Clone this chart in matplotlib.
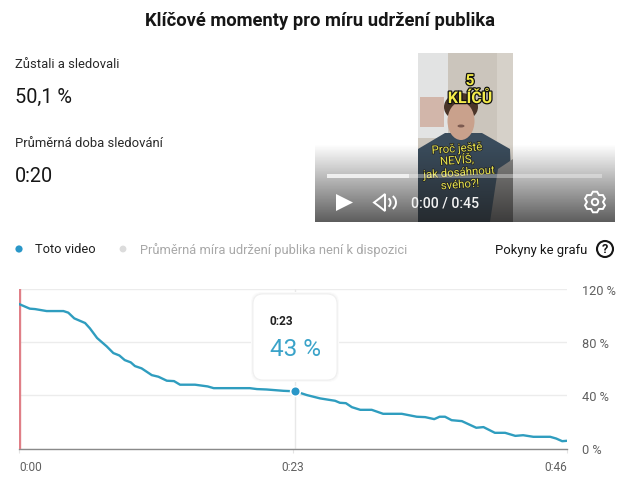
#!/usr/bin/python

import numpy as np
import matplotlib
matplotlib.use('Agg')
import matplotlib.pyplot as plt
import matplotlib.patheffects as pe
from matplotlib.patches import FancyBboxPatch, Ellipse, Rectangle, Polygon, Circle, Arc

plt.rcParams['font.family'] = ['Roboto', 'DejaVu Sans']

# retention curve
seconds = [0, 0.9, 1.33, 2.3, 3.7, 4.1, 4.6, 5.5, 5.9, 6.5, 7.3, 7.85, 8.35, 8.8, 9.3,
           9.65, 10.2, 11.05, 11.6, 12.3, 12.9, 13.4, 14.65, 15.7, 16.2, 19.2, 19.8,
           20.6, 22, 23, 23.95, 25.05, 26.3, 26.7, 27.2, 27.7, 28.4, 29.35, 30.3,
           31.85, 33.1, 33.8, 34.55, 35.0, 35.45, 36, 36.85, 38.05, 38.65, 39.6,
           40.45, 41.3, 41.95, 42.8, 44.2, 44.7, 45.2, 45.6]
retention = [108.7, 105.2, 104.9, 103.4, 103.4, 102.2, 97.9, 94.4, 90.4, 83.1, 76.8,
             71.8, 70, 66.5, 64.8, 62, 60.3, 55.2, 54, 51, 50.7, 48, 48, 46.7, 45.4,
             45.4, 44.7, 44.4, 43.4, 43, 40.2, 37.7, 35.9, 34.4, 34.1, 31.1, 29.1, 29.1,
             26.1, 26.1, 23.9, 23.6, 22.1, 23.9, 23.9, 21.3, 20.6, 15.6, 16.1, 11.8,
             11.8, 9.5, 10, 8.8, 8.8, 7.5, 5.5, 5.8]

y_ticks = [0, 40, 80, 120]
y_labels = ['0 %', '40 %', '80 %', '120 %']
x_ticks = [0, 22.8, 45.6]
x_labels = ['0:00', '0:23', '0:46']
marker_time = 23
marker_value = 43

BLUE = '#2f9dbf'
GREY = '#606060'

fig = plt.figure(figsize=(6.41, 4.81), dpi=100)

#####
# Chart

ax = fig.add_axes([19 / 641, (481 - 449.5) / 481, 548 / 641, 159.5 / 481])
ax.set_xlim(0, 45.6)
ax.set_ylim(0, 120)
for side in ['top', 'right', 'left']:
    ax.spines[side].set_visible(False)
ax.spines['bottom'].set_color('#8a8a8a')
ax.spines['bottom'].set_linewidth(1)

ax.yaxis.tick_right()
ax.set_yticks(y_ticks)
ax.set_yticklabels(y_labels, fontsize=9.2, color=GREY)
ax.tick_params(axis='y', length=0, pad=11)
ax.set_xticks(x_ticks)
ax.set_xticklabels(x_labels, fontsize=8.6, color=GREY)
ax.tick_params(axis='x', length=3, color='#e4e4e4', pad=5)
xt = ax.get_xticklabels()
xt[0].set_ha('left')
xt[2].set_ha('right')

ax.grid(axis='y', color='#ececec', linewidth=1)
ax.set_axisbelow(True)
ax.axvline(marker_time, color='#e8e8e8', linewidth=1, zorder=1)
ax.axvline(0, color='#e07f87', linewidth=2.4, zorder=3)
ax.plot(seconds, retention, color=BLUE, linewidth=1.7, zorder=4)
ax.plot([marker_time], [marker_value], 'o', markersize=7, color='#2a97c8',
        markeredgecolor='white', markeredgewidth=1.2, zorder=5)

#####
# Everything else, in pixel coordinates

px = fig.add_axes([0, 0, 1, 1], facecolor='none')
px.set_xlim(0, 641)
px.set_ylim(481, 0)
px.axis('off')

px.text(320, 21.5, 'Klíčové momenty pro míru udržení publika', ha='center', va='center',
        fontsize=13.2, fontweight='bold', color='#161616')

px.text(15, 64, 'Zůstali a sledovali', va='center', fontsize=9.4, color='#282828')
px.text(15, 97, '50,1 %', va='center', fontsize=14.3, color='#161616')
px.text(15, 144, 'Průměrná doba sledování', va='center', fontsize=9.4, color='#282828')
px.text(15, 177, '0:20', va='center', fontsize=14.3, color='#161616')

# legend row
px.add_patch(Circle((19, 250), 3.6, color='#2a97c8', lw=0))
px.text(35, 250, 'Toto video', va='center', fontsize=9.3, color='#202020')
px.add_patch(Circle((123, 250), 3.4, color='#dcdcdc', lw=0))
px.text(139.5, 250, 'Průměrná míra udržení publika není k dispozici', va='center',
        fontsize=9.3, color='#a8a8a8')
px.text(495, 250.5, 'Pokyny ke grafu', va='center', fontsize=9.4, color='#161616')
px.add_patch(Circle((605, 250), 8, fill=False, ec='#161616', lw=1.5))
px.text(605, 250, '?', ha='center', va='center', fontsize=9, fontweight='bold', color='#161616')

# tooltip
for grow, shade_col in [(2, '#fafafa'), (1, '#f4f4f4')]:
    px.add_patch(FancyBboxPatch((253 - grow, 295 - grow), 84 + 2 * grow, 86 + 2 * grow,
                                boxstyle='round,pad=0,rounding_size=11', fc=shade_col, ec='none', zorder=6))
px.add_patch(FancyBboxPatch((253, 295), 84, 86, boxstyle='round,pad=0,rounding_size=10',
                            fc='white', ec='#eeeeee', lw=0.6, zorder=7))
px.text(270, 321.5, '0:23', va='center', fontsize=8.6, fontweight='bold', color='#222222', zorder=8)
px.text(269.5, 350, '43 %', va='center', fontsize=17.5, color='#3aa3c9', zorder=8)

# video thumbnail
px.add_patch(Rectangle((418, 54), 95, 169, fc='#cbc5bc', ec='none', zorder=1))
px.add_patch(Rectangle((418, 54), 30, 85, fc='#e2e3e3', ec='none', zorder=1))
px.add_patch(Rectangle((420, 98), 24, 30, fc='#d2b6aa', ec='none', zorder=1))
px.add_patch(Rectangle((497, 54), 16, 110, fc='#d6d1c9', ec='none', zorder=1))
px.add_patch(Polygon([(418, 150), (445, 134), (482, 134), (510, 150), (513, 223), (418, 223)],
                     fc='#3a4c5c', ec='none', zorder=2))
px.add_patch(Polygon([(498, 170), (513, 160), (513, 223), (490, 223)], fc='#8b8a88', ec='none', zorder=2))
px.add_patch(Ellipse((461, 108), 34, 28, fc='#4a3428', ec='none', zorder=2))
px.add_patch(Ellipse((461, 122), 27, 38, fc='#c9a18c', ec='none', zorder=3))
px.add_patch(Ellipse((461, 127), 7, 3, fc='#7c5a50', ec='none', zorder=4))

# player gradient, fading to dark at the bottom
alpha = np.linspace(0, 0.72, 80).reshape(-1, 1)
shade = np.zeros((80, 1, 4))
shade[:, :, 0:3] = 0.12
shade[:, :, 3] = alpha
px.imshow(shade, extent=(315, 615, 223, 145), aspect='auto', zorder=5, interpolation='bilinear')
px.set_xlim(0, 641)
px.set_ylim(481, 0)

yellow_text = [pe.withStroke(linewidth=1.8, foreground='#111111')]
px.text(470, 82, '5', ha='center', va='center', fontsize=11, fontweight='bold',
        color='#f4ec4a', path_effects=yellow_text, zorder=6)
px.text(470, 99, 'KLÍČŮ', ha='center', va='center', fontsize=11.5, fontweight='bold',
        color='#f4ec4a', path_effects=yellow_text, zorder=6)
thin_stroke = [pe.withStroke(linewidth=1.1, foreground='#222222')]
px.text(457, 150, 'Proč ještě', ha='center', va='center', fontsize=8.2, rotation=4,
        color='#e6e24c', path_effects=thin_stroke, zorder=6)
px.text(457, 161, 'NEVÍŠ,', ha='center', va='center', fontsize=8.2, rotation=4,
        color='#e6e24c', path_effects=thin_stroke, zorder=6)
px.text(459, 174, 'jak dosáhnout', ha='center', va='center', fontsize=8.2, rotation=4,
        color='#e6e24c', path_effects=thin_stroke, zorder=6)
px.text(460, 186, 'svého?!', ha='center', va='center', fontsize=8.2, rotation=4,
        color='#e6e24c', path_effects=thin_stroke, zorder=6)

# player controls
px.add_patch(Rectangle((327, 175), 275, 4, fc='white', alpha=0.35, ec='none', zorder=7))
px.add_patch(Rectangle((327, 175), 82, 4, fc='white', alpha=0.65, ec='none', zorder=7))
px.add_patch(Polygon([(336, 195), (353, 203.5), (336, 212)], fc='white', ec='none', zorder=7))
px.add_patch(Polygon([(374, 203.5), (380, 199), (385, 195), (385, 212), (380, 208)],
                     fc='none', ec='white', lw=1.4, zorder=7))
px.add_patch(Arc((387, 203.5), 7, 9, theta1=-70, theta2=70, ec='white', lw=1.4, zorder=7))
px.add_patch(Arc((389, 203.5), 14, 15, theta1=-60, theta2=60, ec='white', lw=1.4, zorder=7))
px.text(411, 203.5, '0:00 / 0:45', va='center', fontsize=10.2, fontweight='medium', color='#f2f2f2', zorder=7)

# settings gear
gear_angles = np.radians(np.arange(0, 360, 60) + 30)
gear_outer = [(595 + 10.5 * np.cos(a + d), 203 + 10.5 * np.sin(a + d)) for a in gear_angles for d in (-0.2, 0.2)]
gear_pts = []
for i in range(0, len(gear_outer), 2):
    a = gear_angles[i // 2] + np.radians(30)
    gear_pts += [gear_outer[i], gear_outer[i + 1], (595 + 8 * np.cos(a), 203 + 8 * np.sin(a))]
px.add_patch(Polygon(gear_pts, closed=True, fc='none', ec='white', lw=1.4, zorder=7))
px.add_patch(Circle((595, 203), 3.2, fc='none', ec='white', lw=1.4, zorder=7))

fig.savefig('out.png', dpi=100)
